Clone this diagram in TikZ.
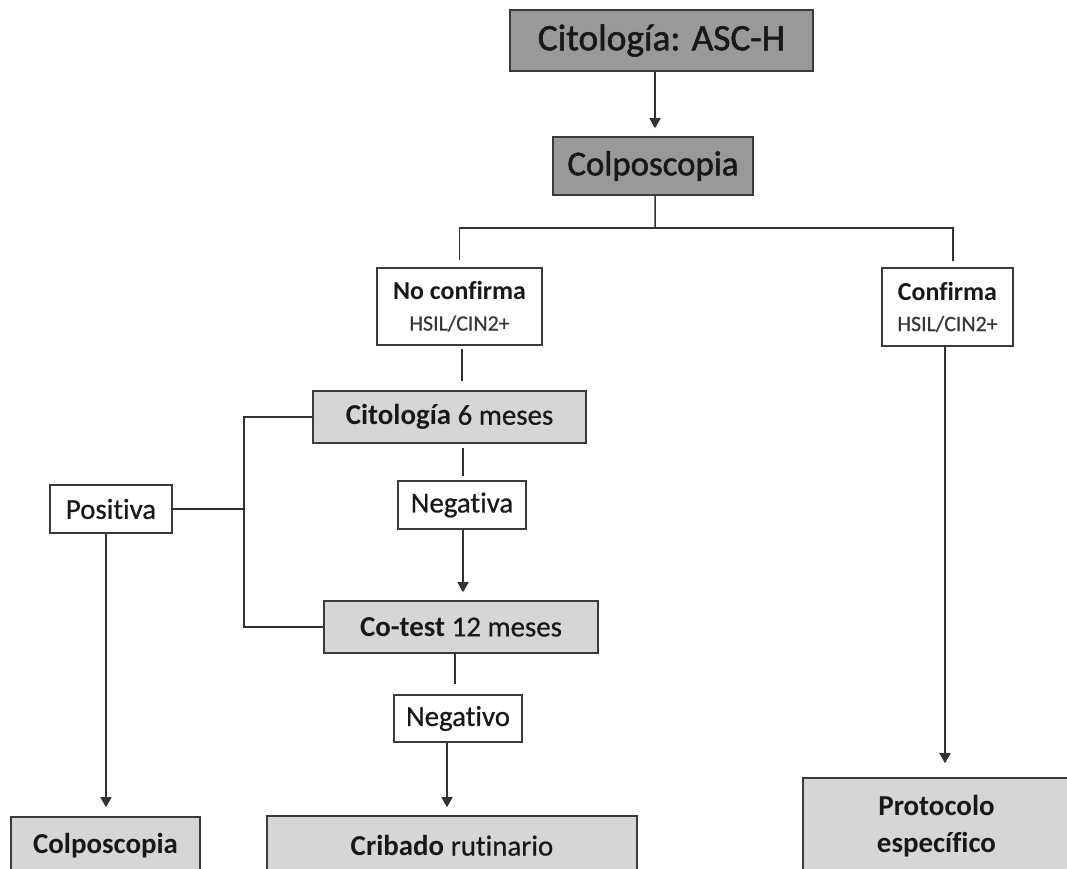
\documentclass[tikz,border=0pt]{standalone}
\usepackage{fontspec}
\setmainfont{Carlito}[Ligatures=NoCommon, UprightFeatures={FakeBold=0.6}]
\newfontfamily\headfont{Carlito}[Ligatures=NoCommon, FakeBold=1.4]
\usetikzlibrary{arrows.meta,calc}

\definecolor{darkfill}{RGB}{153,153,156}
\definecolor{lightfill}{RGB}{214,214,216}
\definecolor{edge}{RGB}{58,58,58}
\definecolor{ink}{RGB}{24,24,24}
\definecolor{wire}{RGB}{50,50,50}
\definecolor{subink}{RGB}{55,55,55}

\tikzset{
  box/.style={draw=edge, line width=1.6bp, inner sep=0pt, align=center, text=ink},
  darkbox/.style={box, fill=darkfill},
  lightbox/.style={box, fill=lightfill},
  whitebox/.style={box, fill=white},
  link/.style={draw=wire, line width=1.5bp},
  arrow/.style={link, -{Triangle[width=11bp,length=10bp]}},
  basefont/.style={font=\fontsize{29}{37}\selectfont},
}

\begin{document}
\begin{tikzpicture}[x=1bp,y=-1bp]
\clip (0,0) rectangle (1067,869);
\fill[white] (0,0) rectangle (1067,869);

% main chain
\node[darkbox, minimum width=303bp, minimum height=61bp, font=\headfont\fontsize{37.5}{44}\selectfont]
  (title) at (661.5,40.5) {Citología: ASC-H};
\node[darkbox, minimum width=200bp, minimum height=58bp, font=\headfont\fontsize{35}{40}\selectfont]
  (colp) at (653,166) {Colposcopia};

% colposcopy outcomes
\node[whitebox, minimum width=165bp, minimum height=77bp, font=\fontsize{26}{31}\selectfont]
  (nocon) at (459.5,306.5) {\bfseries No confirma\\{\fontsize{22}{31}\selectfont\color{subink}HSIL/CIN2+}};
\node[whitebox, minimum width=131bp, minimum height=78bp, font=\fontsize{26}{31}\selectfont]
  (con) at (947.5,307) {\bfseries Confirma\\{\fontsize{22}{31}\selectfont\color{subink}HSIL/CIN2+}};

% follow-up
\node[lightbox, basefont, minimum width=273bp, minimum height=52bp]
  (cit6) at (449.5,417) {{\bfseries Citología} 6 meses};
\node[whitebox, basefont, minimum width=128bp, minimum height=48bp]
  (nega) at (462,505) {Negativa};
\node[whitebox, basefont, minimum width=122bp, minimum height=48bp]
  (pos) at (111,509) {Positiva};
\node[lightbox, basefont, minimum width=274bp, minimum height=52bp]
  (cotest) at (461,627) {{\bfseries Co-test} 12 meses};
\node[whitebox, basefont, minimum width=128bp, minimum height=47bp]
  (nego) at (458,718.5) {Negativo};

% final actions
\node[lightbox, basefont, minimum width=189bp, minimum height=58bp]
  (colpend) at (105.5,846) {\bfseries Colposcopia};
\node[lightbox, basefont, minimum width=370bp, minimum height=59bp]
  (crib) at (452,845.5) {{\bfseries Cribado} rutinario};
\node[lightbox, basefont, minimum width=267bp, minimum height=97bp]
  (prot) at (936.5,826.5) {\bfseries Protocolo\\\bfseries específico};

% connectors
\draw[arrow, shorten >=8bp] ([xshift=-6.5bp]title.south) -- ([xshift=-6.5bp]title.south |- colp.north);

\coordinate (fork) at (655,228);
\draw[link] ([xshift=2bp]colp.south) -- (fork);
\draw[link, shorten >=7bp] (fork) -| (nocon.north);
\draw[link, shorten >=6bp] (fork) -| ([xshift=5.5bp]con.north);

\draw[link, shorten <=3bp, shorten >=9bp] ([xshift=2.5bp]nocon.south) -- ([xshift=2.5bp]nocon.south |- cit6.north);
\draw[link, shorten <=4bp, shorten >=4bp] ([xshift=1bp]nega.north |- cit6.south) -- ([xshift=1bp]nega.north);
\draw[arrow, shorten >=8bp] ([xshift=1bp]nega.south) -- ([xshift=1bp]nega.south |- cotest.north);

\draw[link] (cit6.west) -- ++(-68,0) coordinate (spine) |- (cotest.west);
\draw[link] (pos.east) -- (pos.east -| spine);
\draw[arrow, shorten >=9bp] ([xshift=-5bp]pos.south) -- ([xshift=-5bp]pos.south |- colpend.north);

\draw[link, shorten >=10bp] ([xshift=-6bp]cotest.south) -- ([xshift=-6bp]cotest.south |- nego.north);
\draw[arrow, shorten >=8bp] ([xshift=-11bp]nego.south) -- ([xshift=-11bp]nego.south |- crib.north);

\draw[arrow, shorten >=14bp] ([xshift=-2.5bp]con.south) -- ([xshift=-2.5bp]con.south |- prot.north);
\end{tikzpicture}
\end{document}
